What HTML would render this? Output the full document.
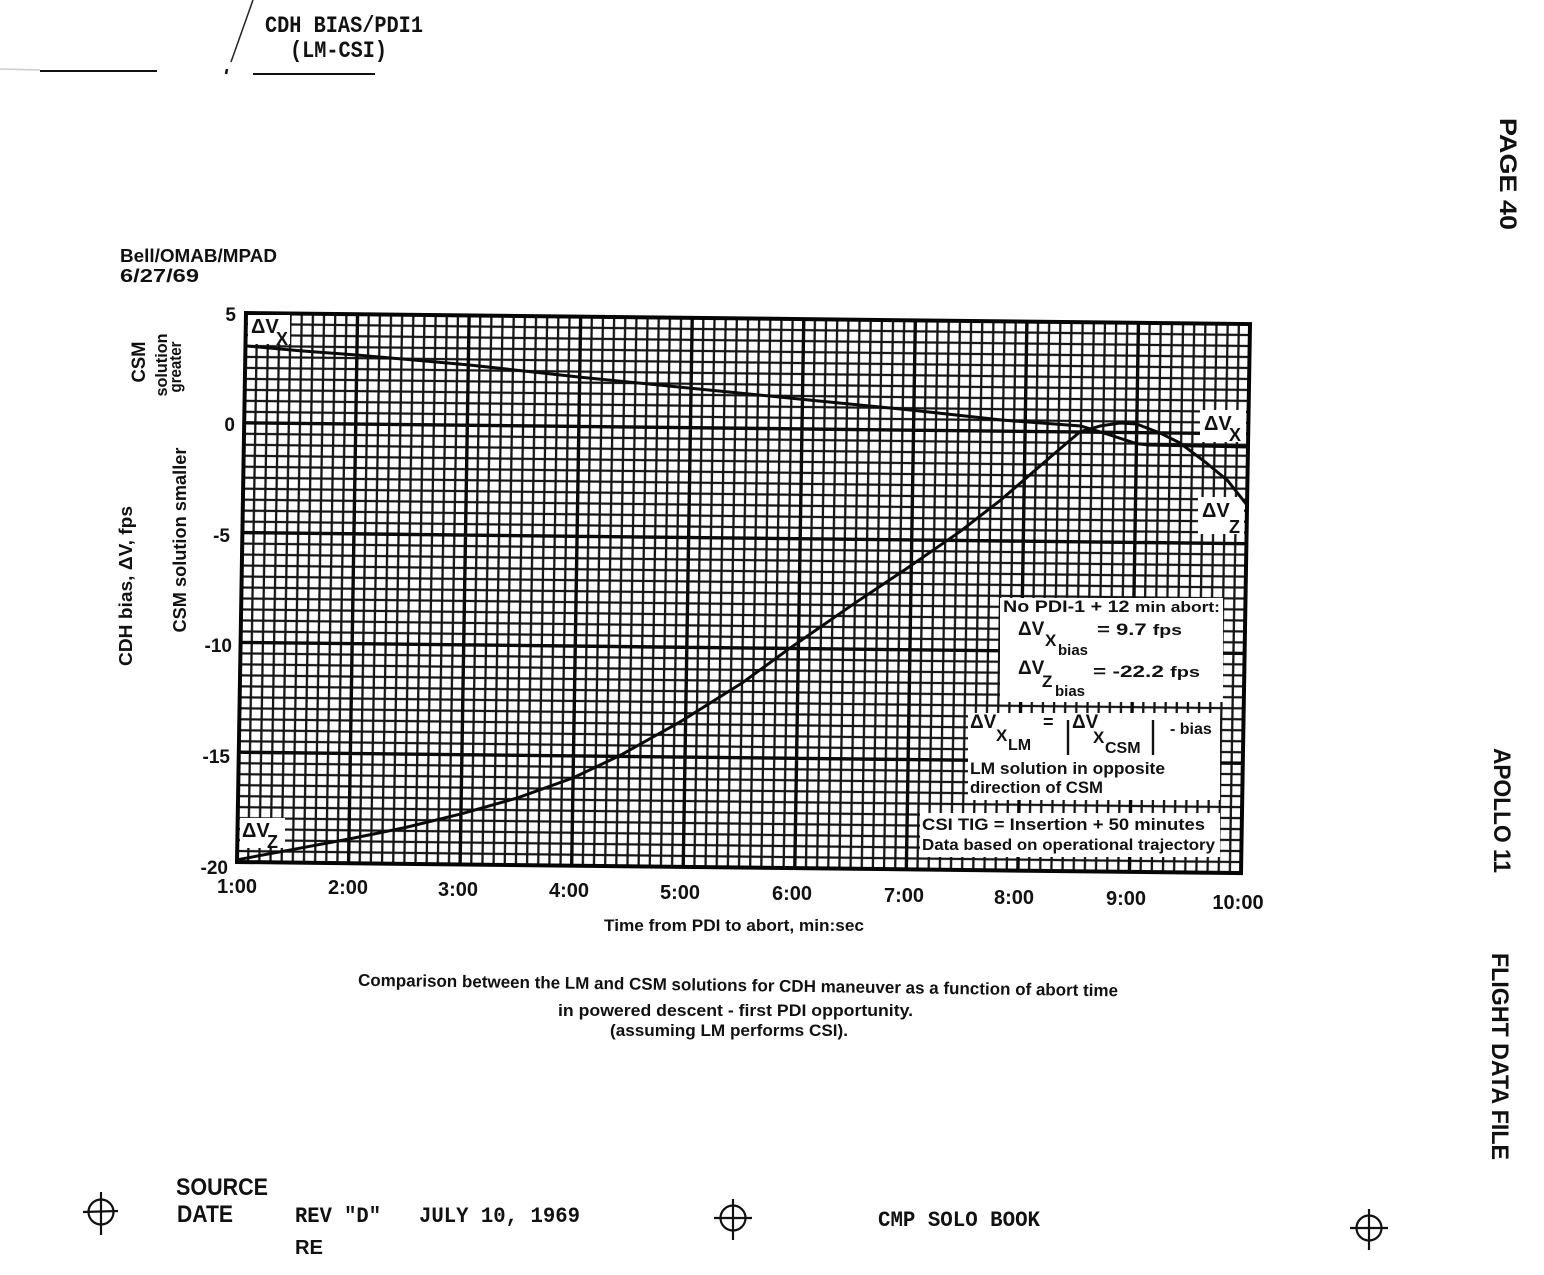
<!DOCTYPE html>
<html>
<head>
<meta charset="utf-8">
<style>
  html, body { margin: 0; padding: 0; background: #fff; }
  svg { display: block; }
  text { font-family: "Liberation Sans", sans-serif; fill: #111; font-weight: bold; }
  .mono { font-family: "Liberation Mono", monospace; font-weight: bold; }
</style>
</head>
<body>
<svg width="1544" height="1275" viewBox="0 0 1544 1275" xmlns="http://www.w3.org/2000/svg">
  <rect x="0" y="0" width="1544" height="1275" fill="#fff"/>

  <!-- Header -->
  <line x1="253" y1="0" x2="231" y2="62" stroke="#222" stroke-width="1.5"/>
  <line x1="227" y1="69" x2="226" y2="74" stroke="#111" stroke-width="2.5"/>
  <line x1="0" y1="69" x2="40" y2="70" stroke="#ccc" stroke-width="1.5"/>
  <line x1="40" y1="71" x2="157" y2="71" stroke="#111" stroke-width="2"/>
  <line x1="253" y1="74" x2="375" y2="74" stroke="#111" stroke-width="2"/>
  <text class="mono" x="265" y="32" font-size="23" textLength="158" lengthAdjust="spacingAndGlyphs">CDH BIAS/PDI1</text>
  <text class="mono" x="290" y="57" font-size="23" textLength="97" lengthAdjust="spacingAndGlyphs">(LM-CSI)</text>

  <text x="120" y="262" font-size="18" textLength="157" lengthAdjust="spacingAndGlyphs">Bell/OMAB/MPAD</text>
  <text x="120" y="282" font-size="18" textLength="79" lengthAdjust="spacingAndGlyphs">6/27/69</text>

  <!-- Right side rotated text -->
  <text transform="translate(1500,118) rotate(90)" font-size="24" textLength="112" lengthAdjust="spacingAndGlyphs">PAGE  40</text>
  <text transform="translate(1494,748) rotate(90)" font-size="24" textLength="125" lengthAdjust="spacingAndGlyphs">APOLLO 11</text>
  <text transform="translate(1492,953) rotate(90)" font-size="24" textLength="207" lengthAdjust="spacingAndGlyphs">FLIGHT DATA FILE</text>

  <!-- Y axis titles -->
  <text transform="translate(132,586) rotate(-90)" font-size="18" text-anchor="middle" textLength="160" lengthAdjust="spacingAndGlyphs">CDH bias, ΔV, fps</text>
  <text transform="translate(186,540) rotate(-90)" font-size="18" text-anchor="middle" textLength="185" lengthAdjust="spacingAndGlyphs">CSM solution smaller</text>
  <text transform="translate(145,362) rotate(-90)" font-size="19" text-anchor="middle" textLength="41" lengthAdjust="spacingAndGlyphs">CSM</text>
  <text transform="translate(167,365) rotate(-90)" font-size="17" text-anchor="middle" textLength="63" lengthAdjust="spacingAndGlyphs">solution</text>
  <text transform="translate(181,367) rotate(-90)" font-size="17" text-anchor="middle" textLength="51" lengthAdjust="spacingAndGlyphs">greater</text>

  <!-- Y tick labels -->
  <g font-size="19" text-anchor="end">
    <text x="236" y="321">5</text>
    <text x="235" y="431">0</text>
    <text x="230" y="542">-5</text>
    <text x="232" y="652">-10</text>
    <text x="230" y="763">-15</text>
    <text x="228" y="874">-20</text>
  </g>

  <!-- X tick labels -->
  <g font-size="20" text-anchor="middle">
    <text x="237" y="893">1:00</text>
    <text x="348" y="894">2:00</text>
    <text x="458" y="896">3:00</text>
    <text x="569" y="897">4:00</text>
    <text x="680" y="899">5:00</text>
    <text x="792" y="900">6:00</text>
    <text x="904" y="902">7:00</text>
    <text x="1014" y="904">8:00</text>
    <text x="1126" y="905">9:00</text>
    <text x="1238" y="909">10:00</text>
  </g>

  <text x="604" y="931" font-size="17" textLength="260" lengthAdjust="spacingAndGlyphs">Time from PDI to abort, min:sec</text>

  <!-- Caption -->
  <text x="358" y="991" font-size="17" textLength="760" lengthAdjust="spacingAndGlyphs" transform="rotate(0.8 738 991)">Comparison between the LM and CSM solutions for CDH maneuver as a function of abort time</text>
  <text x="558" y="1016" font-size="17" textLength="355" lengthAdjust="spacingAndGlyphs">in powered descent - first PDI opportunity.</text>
  <text x="610" y="1036" font-size="17" textLength="238" lengthAdjust="spacingAndGlyphs">(assuming LM performs CSI).</text>

  <!-- Chart grid -->
  <defs>
    <pattern id="minor" patternUnits="userSpaceOnUse" x="0" y="0" width="111.556" height="109.8">
      <path d="M11.156 0V109.8M22.311 0V109.8M33.467 0V109.8M44.622 0V109.8M55.778 0V109.8M66.933 0V109.8M78.089 0V109.8M89.244 0V109.8M100.4 0V109.8M0 10.98H111.556M0 21.96H111.556M0 32.94H111.556M0 43.92H111.556M0 54.9H111.556M0 65.88H111.556M0 76.86H111.556M0 87.84H111.556M0 98.82H111.556" stroke="#151515" stroke-width="2.3" fill="none"/>
    </pattern>
  </defs>
  <g transform="matrix(1,0.011,-0.0164,1,246,313)">
    <rect x="0" y="0" width="1004" height="549" fill="url(#minor)"/>
    <path d="M111.556 0V549M223.111 0V549M334.667 0V549M446.222 0V549M557.778 0V549M669.333 0V549M780.889 0V549M892.444 0V549M0 109.8H1004M0 219.6H1004M0 329.4H1004M0 439.2H1004" stroke="#0a0a0a" stroke-width="3.4" fill="none"/>
    <rect x="0" y="0" width="1004" height="549" fill="none" stroke="#050505" stroke-width="4"/>
  </g>

  <!-- White label boxes -->
  <rect x="248" y="315" width="42" height="29" fill="#fff"/>
  <rect x="240" y="818" width="45" height="30" fill="#fff"/>
  <rect x="1200" y="410" width="46" height="32" fill="#fff"/>
  <rect x="1198" y="497" width="46" height="37" fill="#fff"/>
  <rect x="1000" y="598" width="223" height="104" fill="#fff"/>
  <rect x="968" y="713" width="252" height="87" fill="#fff"/>
  <rect x="920" y="813" width="300" height="44" fill="#fff"/>

  <!-- Curve labels -->
  <text x="251" y="333" font-size="20">ΔV</text>
  <text x="276" y="345" font-size="18">X</text>
  <text x="242" y="837" font-size="20">ΔV</text>
  <text x="267" y="848" font-size="18">Z</text>
  <text x="1204" y="430" font-size="20">ΔV</text>
  <text x="1229" y="441" font-size="18">X</text>
  <text x="1202" y="517" font-size="20">ΔV</text>
  <text x="1229" y="533" font-size="18">Z</text>

  <!-- Box 1 text -->
  <text x="1003" y="612" font-size="17" textLength="217" lengthAdjust="spacingAndGlyphs">No PDI-1 + 12 <tspan font-size="15">min abort:</tspan></text>
  <text x="1018" y="635" font-size="19">ΔV</text>
  <text x="1045" y="646" font-size="17">X</text>
  <text x="1058" y="655" font-size="15">bias</text>
  <text x="1097" y="635" font-size="17" textLength="85" lengthAdjust="spacingAndGlyphs">= 9.7 <tspan font-size="15">fps</tspan></text>
  <text x="1018" y="674" font-size="19">ΔV</text>
  <text x="1042" y="687" font-size="17">Z</text>
  <text x="1055" y="696" font-size="15">bias</text>
  <text x="1093" y="677" font-size="17" textLength="107" lengthAdjust="spacingAndGlyphs">= -22.2 <tspan font-size="15">fps</tspan></text>

  <!-- Box 2 text -->
  <text x="970" y="728" font-size="19">ΔV</text>
  <text x="996" y="741" font-size="17">X</text>
  <text x="1008" y="750" font-size="16">LM</text>
  <text x="1043" y="728" font-size="18">=</text>
  <line x1="1068" y1="720" x2="1068" y2="755" stroke="#111" stroke-width="2.4"/>
  <text x="1072" y="728" font-size="19">ΔV</text>
  <text x="1093" y="743" font-size="17">X</text>
  <text x="1105" y="753" font-size="16">CSM</text>
  <line x1="1153" y1="720" x2="1153" y2="755" stroke="#111" stroke-width="2.4"/>
  <text x="1170" y="734" font-size="16">- bias</text>
  <text x="970" y="774" font-size="17" textLength="195" lengthAdjust="spacingAndGlyphs">LM solution in opposite</text>
  <text x="970" y="793" font-size="17" textLength="133" lengthAdjust="spacingAndGlyphs">direction of CSM</text>

  <!-- Box 3 text -->
  <text x="922" y="830" font-size="17" textLength="283" lengthAdjust="spacingAndGlyphs">CSI TIG = Insertion + 50 minutes</text>
  <text x="922" y="850" font-size="16" textLength="293" lengthAdjust="spacingAndGlyphs">Data based on operational trajectory</text>

  <!-- Curves -->
  <g transform="matrix(1,0.011,-0.0164,1,246,313)" fill="none" stroke="#0a0a0a" stroke-width="3" stroke-linejoin="round" stroke-linecap="round">
    <polyline points="0,32.9 55.8,37.3 111.6,40.8 223.1,49.4 334.7,60.4 446.2,70.3 557.8,80.2 669.3,90.0 758.6,98.8 836.7,103.8 864.6,112.0 892.4,120.8 903.6,122.0 1004,123.0"/>
    <polyline points="0,546.8 55.8,535.8 111.6,524.8 167.3,512.8 223.1,498.5 278.9,482.0 334.7,461.2 381.5,438.1 440.6,404.1 502.0,364.5 548.9,329.4 613.6,283.3 662.6,249.7 717.3,210.8 757.5,178.8 780.9,158.1 806.6,135.1 835.6,109.8 855.6,103.6 875.7,100.4 892.4,101.2 915.9,110.0 936.0,119.7 962.7,139.4 983.9,156.4 1004,181.0"/>
  </g>

  <!-- Footer -->
  <g stroke="#111" stroke-width="2.2" fill="none">
    <circle cx="101" cy="1212" r="12.5"/>
    <line x1="101" y1="1192" x2="101" y2="1235"/>
    <line x1="83" y1="1212" x2="118" y2="1211"/>
    <circle cx="733" cy="1218" r="12.5"/>
    <line x1="733" y1="1199" x2="733" y2="1240"/>
    <line x1="714" y1="1218" x2="752" y2="1218"/>
    <circle cx="1369" cy="1228" r="12.5"/>
    <line x1="1369" y1="1209" x2="1369" y2="1250"/>
    <line x1="1350" y1="1228" x2="1388" y2="1228"/>
  </g>
  <text x="176" y="1195" font-size="24" textLength="92" lengthAdjust="spacingAndGlyphs">SOURCE</text>
  <text x="177" y="1222" font-size="24" textLength="56" lengthAdjust="spacingAndGlyphs">DATE</text>
  <text class="mono" x="295" y="1222" font-size="22" textLength="86" lengthAdjust="spacingAndGlyphs">REV "D"</text>
  <text class="mono" x="419" y="1222" font-size="22" textLength="161" lengthAdjust="spacingAndGlyphs">JULY 10, 1969</text>
  <text x="295" y="1254" font-size="20" textLength="28" lengthAdjust="spacingAndGlyphs" font-weight="normal">RE</text>
  <text class="mono" x="878" y="1226" font-size="22" textLength="162" lengthAdjust="spacingAndGlyphs">CMP SOLO BOOK</text>
</svg>
</body>
</html>
